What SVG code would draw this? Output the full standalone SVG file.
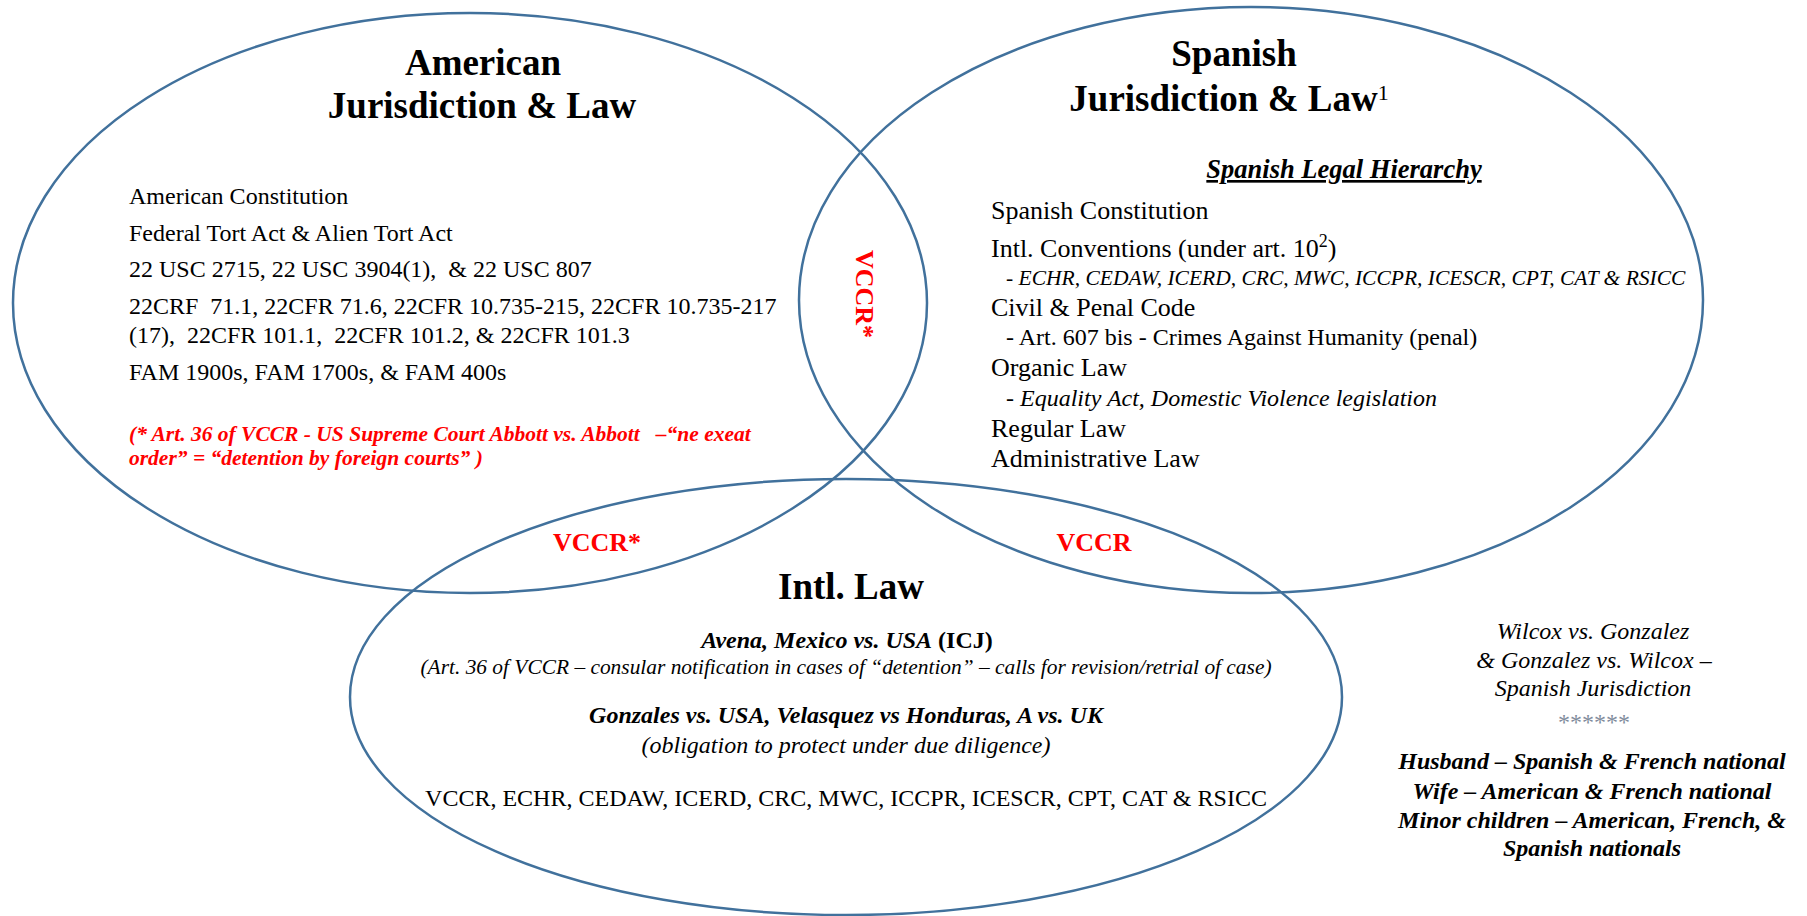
<svg xmlns="http://www.w3.org/2000/svg" width="1807" height="916" viewBox="0 0 1807 916">
<style>
text{font-family:"Liberation Serif","Times New Roman",serif;fill:#000}
.ring{fill:none;stroke:#41719C;stroke-width:2.5}
.title{font-size:37px;font-weight:bold;text-anchor:middle}
.am{font-size:24px}
.sp{font-size:26px}
.red{fill:#FF0000;font-weight:bold}
.it{font-style:italic}
.b{font-weight:bold}
.mid{text-anchor:middle}
</style>
<rect width="1807" height="916" fill="#fff"/>
<g id="rings">
<ellipse class="ring" cx="470" cy="303" rx="457" ry="290"/>
<ellipse class="ring" cx="1251" cy="300" rx="452" ry="293"/>
<ellipse class="ring" cx="846" cy="697" rx="496" ry="218"/>
</g>
<g id="american">
<text class="title" x="483" y="75">American</text>
<text class="title" x="482" y="118">Jurisdiction &amp; Law</text>
<text class="am" x="129" y="204">American Constitution</text>
<text class="am" x="129" y="241">Federal Tort Act &amp; Alien Tort Act</text>
<text class="am" x="129" y="277" xml:space="preserve">22 USC 2715, 22 USC 3904(1),  &amp; 22 USC 807</text>
<text class="am" x="129" y="314" xml:space="preserve">22CRF  71.1, 22CFR 71.6, 22CFR 10.735-215, 22CFR 10.735-217</text>
<text class="am" x="129" y="343" xml:space="preserve">(17),  22CFR 101.1,  22CFR 101.2, &amp; 22CFR 101.3</text>
<text class="am" x="129" y="380">FAM 1900s, FAM 1700s, &amp; FAM 400s</text>
<text class="red it" x="129" y="441" font-size="21.5" xml:space="preserve">(* Art. 36 of VCCR - US Supreme Court Abbott vs. Abbott   –“ne exeat</text>
<text class="red it" x="129" y="465" font-size="21.5">order” = “detention by foreign courts” )</text>
</g>
<g id="spanish">
<text class="title" x="1234" y="66">Spanish</text>
<text class="title" x="1229" y="111">Jurisdiction &amp; Law<tspan font-size="22" font-weight="normal" dy="-11">1</tspan></text>
<text class="b it mid" x="1344" y="178" font-size="26.5" text-decoration="underline">Spanish Legal Hierarchy</text>
<text class="sp" x="991" y="219">Spanish Constitution</text>
<text class="sp" x="991" y="257">Intl. Conventions (under art. 10<tspan font-size="18" dy="-10">2</tspan><tspan dy="10">)</tspan></text>
<text class="it" x="1006" y="285" font-size="21.5">- ECHR, CEDAW, ICERD, CRC, MWC, ICCPR, ICESCR, CPT, CAT &amp; RSICC</text>
<text class="sp" x="991" y="316">Civil &amp; Penal Code</text>
<text x="1006" y="345" font-size="24">- Art. 607 bis - Crimes Against Humanity (penal)</text>
<text class="sp" x="991" y="376">Organic Law</text>
<text class="it" x="1006" y="406" font-size="24">- Equality Act, Domestic Violence legislation</text>
<text class="sp" x="991" y="437">Regular Law</text>
<text class="sp" x="991" y="467">Administrative Law</text>
</g>
<g id="intl">
<text class="title" x="851" y="599">Intl. Law</text>
<text class="mid" x="847" y="648" font-size="24"><tspan class="b it">Avena, Mexico vs. USA</tspan><tspan class="b"> (ICJ)</tspan></text>
<text class="it mid" x="846" y="674" font-size="21.4">(Art. 36 of VCCR – consular notification in cases of “detention” – calls for revision/retrial of case)</text>
<text class="b it mid" x="846" y="723" font-size="24">Gonzales vs. USA, Velasquez vs Honduras, A vs. UK</text>
<text class="it mid" x="846" y="753" font-size="24">(obligation to protect under due diligence)</text>
<text class="mid" x="846" y="806" font-size="24">VCCR, ECHR, CEDAW, ICERD, CRC, MWC, ICCPR, ICESCR, CPT, CAT &amp; RSICC</text>
</g>
<g id="overlaps">
<text class="red" font-size="26" text-anchor="middle" transform="translate(856 294) rotate(90)">VCCR*</text>
<text class="red mid" x="597" y="551" font-size="26">VCCR*</text>
<text class="red mid" x="1094" y="551" font-size="26">VCCR</text>
</g>
<g id="family">
<text class="it mid" x="1593" y="639" font-size="24">Wilcox vs. Gonzalez</text>
<text class="it mid" x="1594" y="668" font-size="24">&amp; Gonzalez vs. Wilcox –</text>
<text class="it mid" x="1593" y="696" font-size="24">Spanish Jurisdiction</text>
<text class="mid" x="1594" y="730" font-size="24" style="fill:#7F8C9C">******</text>
<text class="b it mid" x="1592" y="769" font-size="24">Husband – Spanish &amp; French national</text>
<text class="b it mid" x="1592" y="799" font-size="24">Wife – American &amp; French national</text>
<text class="b it mid" x="1592" y="828" font-size="24">Minor children – American, French, &amp;</text>
<text class="b it mid" x="1592" y="856" font-size="24">Spanish nationals</text>
</g>
</svg>
